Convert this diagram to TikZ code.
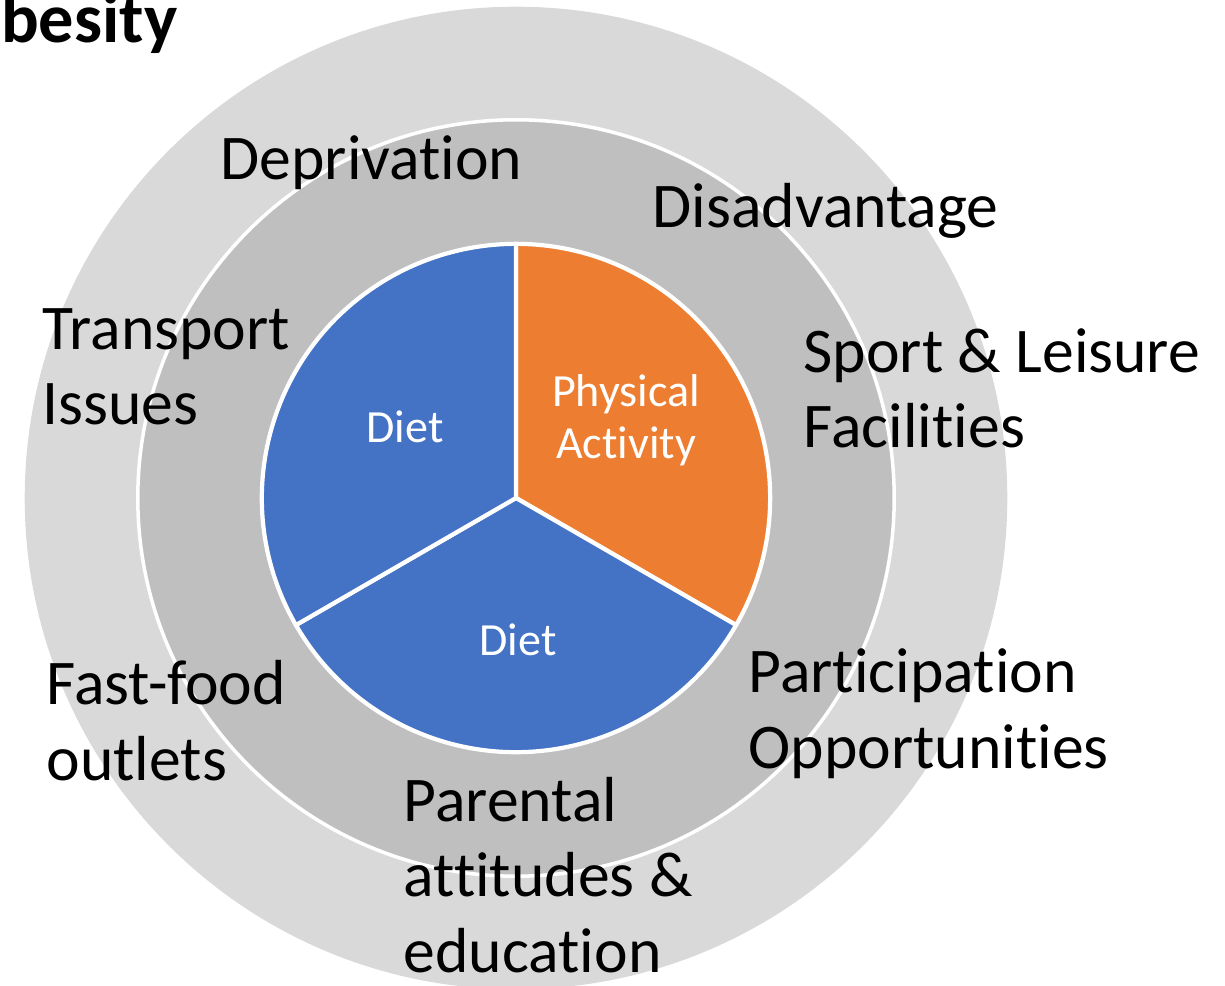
\documentclass[tikz,border=0pt]{standalone}
\usepackage{fontspec}
\setmainfont[Ligatures={NoCommon}]{Carlito}
\usepackage{tikz}
\usetikzlibrary{positioning}
\definecolor{ringout}{HTML}{D9D9D9}
\definecolor{ringmid}{HTML}{BFBFBF}
\definecolor{dietblue}{HTML}{4472C4}
\definecolor{actorange}{HTML}{ED7D31}

\begin{document}
\begin{tikzpicture}[x=0.01cm, y=-0.01cm,
    lbl/.style={inner sep=0pt, align=left, anchor=base west, font=\fontsize{18.1}{21.4}\selectfont},
    seglbl/.style={inner sep=0pt, align=center, text=white, font=\fontsize{13.1}{14.9}\selectfont},
    wedge/.style={draw=white, line width=1.2pt, line join=round}]
  \useasboundingbox (0,0) rectangle (1225,986);
  \coordinate (c) at (516,498);

  % rings
  \fill[ringout] (c) circle[radius=4.91cm];
  \draw[fill=ringmid, draw=white, line width=1pt] (c) circle[radius=3.78cm];

  % pie
  \filldraw[wedge, fill=actorange] (c) -- ++(90:2.54cm) arc[start angle=90, end angle=-30, radius=2.54cm] -- cycle;
  \filldraw[wedge, fill=dietblue] (c) -- ++(-30:2.54cm) arc[start angle=-30, end angle=-150, radius=2.54cm] -- cycle;
  \filldraw[wedge, fill=dietblue] (c) -- ++(210:2.54cm) arc[start angle=210, end angle=90, radius=2.54cm] -- cycle;

  \node[seglbl, anchor=base] (dietl) at (405,443) {Diet};
  \node[seglbl, anchor=base] (dietb) at (518,656) {Diet};
  \node[seglbl] (phys) at (626,420) {Physical\\Activity};

  % title
  \node[inner sep=0pt, anchor=base east, font=\fontsize{20}{24}\selectfont\bfseries] (title) at (178,43) {Obesity};

  % factors (base = last line)
  \node[lbl] (depr) at (220,180) {Deprivation};
  \node[lbl] (disad) at (652,228) {Disadvantage};
  \node[lbl] (trans) at (42,425) {Transport\\Issues};
  \node[lbl] (sport) at (803,448) {Sport \& Leisure\\Facilities};
  \node[lbl] (fast) at (46,780) {Fast-food\\outlets};
  \node[lbl] (part) at (748,768) {Participation\\Opportunities};
  \node[lbl] (parent) at (403,972) {Parental\\attitudes \&\\education};
\end{tikzpicture}
\end{document}
